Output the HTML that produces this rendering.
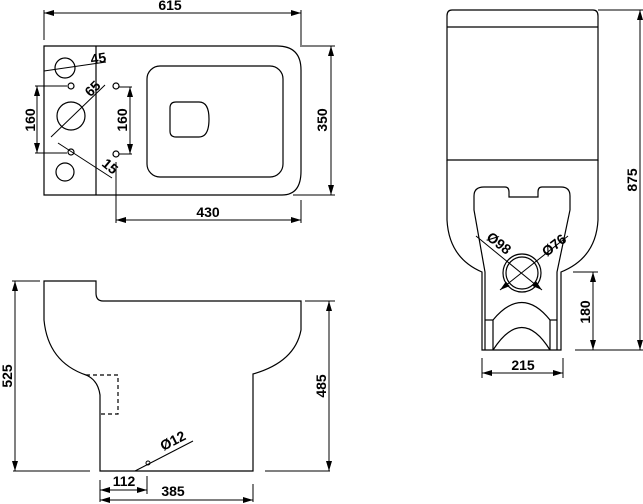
<!DOCTYPE html>
<html><head><style>html,body{margin:0;padding:0;background:#fff}svg{display:block}
text{font-family:"Liberation Sans",sans-serif;font-weight:bold;font-size:14px;fill:#000}</style></head>
<body>
<svg width="643" height="504" viewBox="0 0 643 504" xmlns="http://www.w3.org/2000/svg">
<defs>
<marker id="a" viewBox="0 0 10 6" refX="10" refY="3" markerWidth="10" markerHeight="6" orient="auto-start-reverse" markerUnits="userSpaceOnUse"><path d="M0,0L10,3L0,6z" fill="#000"/></marker>
</defs>
<g fill="none" stroke="#000" stroke-width="1.2">
<!-- top view -->
<path d="M44,46H277Q301,46 301,70V171Q301,195 282,195H44Z"/>
<line x1="96" y1="46" x2="96" y2="195"/>
<rect x="147" y="66" width="136" height="111" rx="13"/>
<path d="M176,102H199Q209,102 209,119Q209,137 199,137H176Q170,137 170,131V108Q170,102 176,102Z"/>
<circle cx="65" cy="68" r="10"/><circle cx="71" cy="116" r="14"/><circle cx="65" cy="172" r="9"/>
<circle cx="71" cy="86" r="3"/><circle cx="71" cy="152" r="3"/><circle cx="116" cy="86" r="3"/><circle cx="116" cy="154" r="3"/>
<g stroke-width="1">
<line x1="44" y1="13" x2="301" y2="13" marker-start="url(#a)" marker-end="url(#a)"/>
<line x1="44" y1="10" x2="44" y2="40"/><line x1="301" y1="10" x2="301" y2="45"/>
<line x1="331" y1="46" x2="331" y2="195" marker-start="url(#a)" marker-end="url(#a)"/>
<line x1="300" y1="46" x2="335" y2="46"/><line x1="293" y1="195" x2="335" y2="195"/>
<line x1="116" y1="220" x2="301" y2="220" marker-start="url(#a)" marker-end="url(#a)"/>
<line x1="116" y1="162" x2="116" y2="223"/><line x1="301" y1="200" x2="301" y2="223"/>
<line x1="37" y1="86" x2="37" y2="153" marker-start="url(#a)" marker-end="url(#a)"/>
<line x1="35" y1="86" x2="67" y2="86"/><line x1="35" y1="153" x2="67" y2="153"/>
<line x1="130" y1="87" x2="130" y2="154" marker-start="url(#a)" marker-end="url(#a)"/>
<line x1="119" y1="87" x2="132" y2="87"/><line x1="119" y1="154" x2="132" y2="154"/>
<line x1="44" y1="71" x2="106" y2="62"/>
<line x1="51" y1="137" x2="105" y2="85"/>
<line x1="58" y1="143" x2="112" y2="178"/>
</g>
<!-- front view -->
<path d="M452,10H593Q598,10 598,16V160H447V16Q447,10 452,10Z"/>
<line x1="447" y1="27" x2="598" y2="27"/>
<path d="M447,160V220Q449,258 482,272V350H561V272Q596,258 598,220V160"/>
<path d="M485,350V272L474,210V196Q474,187 484,187H505Q509,187 509,192V197H538V192Q538,187 542,187H561Q570,187 570,196V210L557,272V350"/>
<circle cx="522" cy="273" r="19"/><circle cx="522" cy="273" r="16"/>
<path d="M493,320Q522,285 550,320"/><path d="M493,350Q522,305 550,350"/>
<line x1="485" y1="320" x2="493" y2="320"/><line x1="550" y1="320" x2="557" y2="320"/>
<line x1="493" y1="320" x2="493" y2="350"/><line x1="550" y1="320" x2="550" y2="350"/>
<g stroke-width="1">
<line x1="476" y1="236" x2="542" y2="290" marker-end="url(#a)"/>
<line x1="500" y1="290" x2="568" y2="236" marker-start="url(#a)"/>
<line x1="640" y1="10" x2="640" y2="350" marker-start="url(#a)" marker-end="url(#a)"/>
<line x1="598" y1="10" x2="643" y2="10"/><line x1="575" y1="350" x2="643" y2="350"/>
<line x1="593" y1="272" x2="593" y2="350" marker-start="url(#a)" marker-end="url(#a)"/>
<line x1="573" y1="272" x2="598" y2="272"/>
<line x1="482" y1="373" x2="563" y2="373" marker-start="url(#a)" marker-end="url(#a)"/>
<line x1="482" y1="358" x2="482" y2="378"/><line x1="563" y1="358" x2="563" y2="378"/>
</g>
<!-- side view -->
<path d="M44,281V320Q48,362 86,375Q98,380 100,395V471H253V374Q295,362 301,330V301H103Q96,301 96,293V281Z"/>
<path d="M86,375H118V414H100" stroke-dasharray="4,3"/>
<g stroke-width="1">
<line x1="13" y1="471" x2="90" y2="471"/><line x1="265" y1="471" x2="330" y2="471"/>
<line x1="15" y1="281" x2="15" y2="471" marker-start="url(#a)" marker-end="url(#a)"/>
<line x1="12" y1="281" x2="40" y2="281"/>
<line x1="329" y1="301" x2="329" y2="471" marker-start="url(#a)" marker-end="url(#a)"/>
<line x1="305" y1="301" x2="335" y2="301"/>
<line x1="100" y1="490" x2="147" y2="490" marker-start="url(#a)" marker-end="url(#a)"/>
<line x1="100" y1="500" x2="253" y2="500" marker-start="url(#a)" marker-end="url(#a)"/>
<line x1="100" y1="480" x2="100" y2="502"/><line x1="147" y1="476" x2="147" y2="494"/><line x1="253" y1="484" x2="253" y2="502"/>
<line x1="135" y1="471" x2="193" y2="441"/>
<circle cx="148" cy="463" r="2"/>
</g>
</g>
<text x="170" y="10" text-anchor="middle">615</text>
<text x="208" y="217" text-anchor="middle">430</text>
<text transform="translate(327,120) rotate(-90)" text-anchor="middle">350</text>
<text transform="translate(35,120) rotate(-90)" text-anchor="middle">160</text>
<text transform="translate(127,120) rotate(-90)" text-anchor="middle">160</text>
<text transform="translate(99,63) rotate(-8)" text-anchor="middle">45</text>
<text transform="translate(96,92) rotate(-45)" text-anchor="middle">65</text>
<text transform="translate(107,170) rotate(40)" text-anchor="middle">15</text>
<text transform="translate(496,247) rotate(38)" text-anchor="middle">Ø98</text>
<text transform="translate(557,249) rotate(-38)" text-anchor="middle">Ø76</text>
<text transform="translate(637,180) rotate(-90)" text-anchor="middle">875</text>
<text transform="translate(590,312) rotate(-90)" text-anchor="middle">180</text>
<text x="523" y="370" text-anchor="middle">215</text>
<text transform="translate(12,376) rotate(-90)" text-anchor="middle">525</text>
<text transform="translate(326,386) rotate(-90)" text-anchor="middle">485</text>
<text x="124" y="486" text-anchor="middle">112</text>
<text x="173" y="496" text-anchor="middle">385</text>
<text transform="translate(175,445) rotate(-27)" text-anchor="middle">Ø12</text>
</svg>
</body></html>
